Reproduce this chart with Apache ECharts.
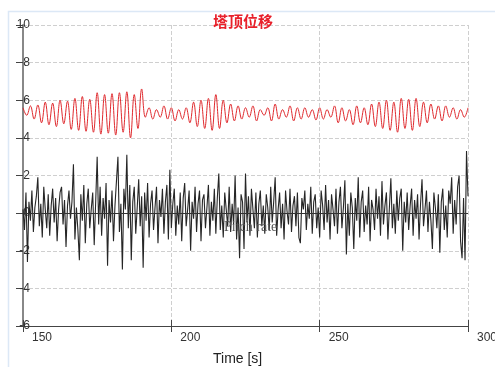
<!DOCTYPE html>
<html>
<head>
<meta charset="utf-8">
<script src="https://cdn.jsdelivr.net/npm/echarts@6/dist/echarts.min.js"></script>
<style>html,body{margin:0;padding:0;background:#fff;}#c{width:495px;height:367px;}</style>
</head>
<body>
<div id="c"></div>
<script>
// Time axis
var tStart = 150, tEnd = 300;
var xTicks = [150, 200, 250, 300];
var yTicks = [-6, -4, -2, 0, 2, 4, 6, 8, 10];
var titleText = '塔顶位移';
var xName = 'Time [s]';
var noteText = 'Pitch rate';

// Red series: tower top displacement, one sample every 1.25 s from 150 s
var redStep = 1.25;
var redValues = [
  5.6, 5.2, 5.7, 5.0, 5.75, 4.8, 5.9, 4.7, 5.85, 4.6,
  6.0, 4.75, 5.95, 4.45, 6.1, 4.4, 6.2, 4.35, 6.05, 4.3,
  6.4, 4.2, 6.3, 4.25, 6.35, 4.15, 6.4, 4.3, 6.45, 4.0,
  6.3, 4.5, 6.6, 5.1, 5.6, 5.0, 5.5, 5.1, 5.7, 5.0,
  5.6, 4.9, 5.5, 5.0, 5.6, 4.8, 5.9, 4.6, 6.0, 4.5,
  6.1, 4.4, 6.3, 4.5, 6.0, 4.8, 5.8, 4.9, 5.7, 5.0,
  5.6, 5.1, 5.7, 4.9, 5.5, 5.2, 5.6, 4.9, 5.8, 5.0,
  5.5, 5.1, 5.7, 4.9, 5.6, 5.0, 5.6, 5.1, 5.5, 4.95,
  5.6, 5.0, 5.5, 5.1, 5.7, 4.8, 5.6, 4.9, 5.5, 4.7,
  5.7, 4.8, 5.6, 4.7, 5.8, 4.6, 5.9, 4.5, 6.0, 4.4,
  5.9, 4.3, 6.1, 4.5, 6.05, 4.4, 6.1, 4.6, 5.9, 4.8,
  5.8, 5.0, 5.7, 4.9, 5.7, 5.1, 5.6, 5.0, 5.5, 5.1,
  5.6
];

// Black series: pitch rate, one sample every 0.5 s from 150 s
var blackStep = 0.5;
var blackValues = [
  0.2, -0.9, 1.1, -2.6, 0.6, -0.4, 1.2, -1.0, 0.3, 0.9, 1.9, -0.7, 0.5, -1.3, 1.4, 0.2, -0.8, 1.0, -1.2, 0.4,
  1.3, -0.5, 0.8, -1.5, 0.2, 1.1, 1.4, -0.6, 0.7, -1.8, 0.4, 1.2, -0.3, 0.6, 2.6, -1.4, 0.3, -0.9, -2.5, 1.0,
  -0.4, 1.5, -1.6, 0.5, 1.3, -0.8, 0.2, 1.1, -1.7, 0.6, 3.0, -0.6, 1.4, -1.2, 0.8, -0.3, 1.6, -2.8, 0.7, -0.5,
  1.2, -1.5, 0.4, 1.7, 3.0, -1.0, 0.5, -3.0, 1.3, 0.2, 3.1, -0.8, 1.5, -2.5, 0.6, 1.4, -1.1, 0.3, 1.8, -0.7,
  0.9, -2.9, 1.1, -0.4, 1.6, -1.3, 0.5, 1.2, -0.9, 0.3, 1.4, -1.6, 0.7, -0.2, 1.3, -1.1, 0.6, 1.5, -1.4, 2.3,
  -0.8, 0.5, 1.3, -1.2, 0.4, -0.6, 1.1, -1.5, 0.8, 1.6, -0.7, 0.2, 1.2, -2.0, 0.6, -0.3, 1.4, -1.0, 0.5, 1.2,
  -1.5, 0.7, 1.0, -0.8, 0.3, 1.5, -1.2, 0.6, -0.4, 1.3, -1.1, 0.8, 2.1, -0.9, 0.4, -1.3, 1.1, 0.2, -0.7, 1.4,
  -1.0, 0.5, -0.6, 2.0, -1.4, 0.3, -2.4, 1.0, 0.6, -1.9, 2.1, -0.5, 0.9, -1.2, 1.3, 0.2, -0.8, 1.1, -1.3, 0.5,
  1.2, -0.7, 0.4, -1.1, 1.0, 0.3, -0.9, 1.4, -0.5, 0.6, 1.9, -1.2, 0.2, 1.1, -0.8, 0.5, -1.4, 1.2, 0.1, -0.6,
  1.3, -1.0, 0.4, 0.9, -0.7, 1.1, -1.3, -1.6, 0.8, 0.2, 1.2, -0.9, 0.5, -0.3, 1.4, -1.1, 0.6, 1.0, -0.8, 0.3,
  -1.3, 1.2, 0.4, -0.9, 1.5, -0.5, 0.7, -1.4, 1.0, 0.2, -0.7, 1.3, -1.1, 0.6, 1.4, -0.8, 0.3, 1.75, -2.2, 0.5,
  -1.2, 1.1, 0.3, -1.9, 0.8, -0.4, 1.9, -1.3, 0.6, 1.2, -1.0, 0.4, -0.6, 1.4, -1.5, 0.7, 0.2, -0.9, 1.3, -0.3,
  0.9, -1.2, 1.7, -0.6, 0.4, 1.1, -1.4, 0.3, 1.85, -0.8, 0.5, -1.1, 1.2, -0.4, 0.8, 1.3, -2.0, 0.6, -0.5, 1.1,
  -0.9, 0.4, 1.3, -1.2, 0.7, -0.3, 1.0, -1.4, 0.5, 1.8, -0.7, 0.2, 1.2, -1.0, 0.6, -0.4, -1.9, 1.1, 0.3, -0.8,
  1.0, -2.1, 0.6, 1.3, -0.9, 0.4, -1.3, 1.2, 0.5, 1.9, -1.1, 0.7, -0.6, 1.4, 2.0, -1.5, -2.4, 0.8, -2.5, 3.3,
  0.9
];

function pairs(vals, step) {
  return vals.map(function (v, i) { return [tStart + i * step, v]; });
}

var chart = echarts.init(document.getElementById('c'), null, {renderer: 'canvas'});
var fontSans = '"Liberation Sans", Arial, sans-serif';
chart.setOption({
  animation: false,
  backgroundColor: '#ffffff',
  title: {
    text: titleText,
    left: 208,
    top: 9,
    textStyle: {color: '#e8202a', fontSize: 15, fontWeight: 'bold', fontFamily: '"Noto Sans CJK SC", sans-serif'}
  },
  grid: {left: 23, right: 27, top: 25, bottom: 41, containLabel: false, outerBoundsMode: 'none'},
  xAxis: [{
    type: 'value',
    min: tStart, max: tEnd, interval: 50,
    axisLine: {onZero: false, lineStyle: {color: '#444', width: 1.2}},
    axisTick: {show: true, length: 6, lineStyle: {color: '#444', width: 1}},
    axisLabel: {
      color: '#333', fontSize: 12, fontFamily: fontSans, margin: 6, align: 'left', padding: [0, 0, 0, 9],
      formatter: function (v) { return xTicks.indexOf(v) >= 0 ? String(v) : ''; }
    },
    splitLine: {show: true, lineStyle: {color: '#cfcfcf', type: 'dashed', width: 1}}
  }, {
    type: 'value', position: 'bottom',
    min: tStart, max: tEnd, interval: 50,
    axisLine: {show: false, onZero: false},
    axisTick: {show: true, inside: true, length: 6, lineStyle: {color: '#444', width: 1}},
    axisLabel: {show: false},
    splitLine: {show: false}
  }],
  yAxis: {
    type: 'value',
    min: -6, max: 10, interval: 2,
    axisLine: {show: true, lineStyle: {color: '#888', width: 2}},
    axisTick: {show: true, length: 7, lineStyle: {color: '#444', width: 1}},
    axisLabel: {
      color: '#333', fontSize: 12, fontFamily: fontSans, margin: -7,
      formatter: function (v) { return yTicks.indexOf(v) >= 0 ? String(v) : ''; }
    },
    splitLine: {show: true, lineStyle: {color: '#cfcfcf', type: 'dashed', width: 1}}
  },
  series: [{
    type: 'line',
    data: pairs(blackValues, blackStep),
    showSymbol: false,
    lineStyle: {color: '#262626', width: 1.1},
    z: 2,
    markLine: {
      silent: true, symbol: 'none', label: {show: false},
      lineStyle: {color: '#333', width: 1, type: 'solid'},
      data: [{yAxis: 0}]
    }
  }, {
    type: 'line',
    data: pairs(redValues, redStep),
    showSymbol: false,
    smooth: 0.4,
    lineStyle: {color: '#e02a2e', width: 1},
    z: 3
  }],
  graphic: [{
    type: 'rect', silent: true, z: -1,
    shape: {x: 8.5, y: 11.5, width: 700, height: 700},
    style: {fill: 'none', stroke: '#dce8f6', lineWidth: 1.5}
  }, {
    type: 'text', left: 224, top: 220, silent: true, z: 100,
    style: {text: noteText, fill: '#555555', font: '14px "Liberation Serif", "DejaVu Serif", serif'}
  }, {
    type: 'text', left: 213, top: 352, silent: true,
    style: {text: xName, fill: '#222', font: '14px "Liberation Sans", Arial, sans-serif'}
  }]
});
</script>
</body>
</html>
